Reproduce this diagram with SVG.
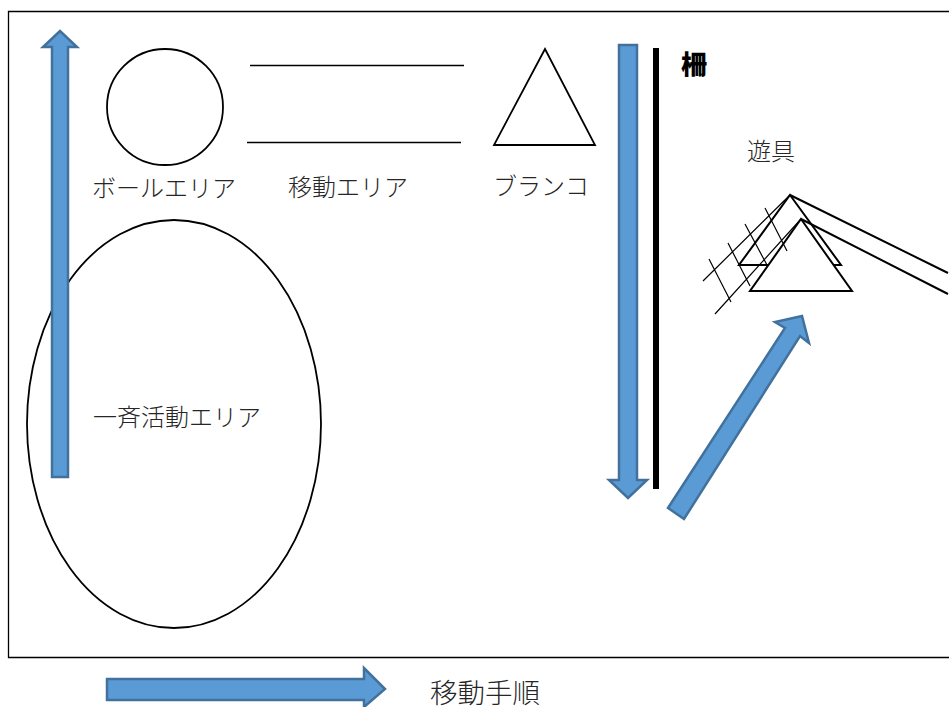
<svg xmlns="http://www.w3.org/2000/svg" width="949" height="707" viewBox="0 0 949 707">
  <style>
    .outline { fill: none; stroke: #000; stroke-width: 1.8; }
    .line { fill: none; stroke: #000; stroke-width: 1.3; }
    .solid { fill: #fff; stroke: #000; stroke-width: 2; }
    .roof { fill: none; stroke: #000; stroke-width: 2; }
    .thin { fill: none; stroke: #000; stroke-width: 1.2; }
    .flow { fill: #5b9bd5; stroke: #41719c; stroke-width: 2.5; }
    text { font-family: "Noto Sans CJK JP", sans-serif; font-weight: 300; font-size: 24px; fill: #262626; text-anchor: middle; }
  </style>
  <rect width="949" height="707" fill="#fff"/>
  <g id="frame"><path class="line" d="M949 11.5H8.5V657.5H949"/></g>

  <g id="activity-area">
    <ellipse class="outline" cx="174" cy="424" rx="147" ry="204"/>
    <text x="177" y="426">一斉活動エリア</text>
  </g>
  <g id="ball-area">
    <circle class="outline" cx="165" cy="107" r="58"/>
    <text x="164" y="197">ボールエリア</text>
  </g>
  <g id="move-area">
    <line class="line" x1="250" y1="65.5" x2="464" y2="65.5"/>
    <line class="line" x1="247" y1="142.5" x2="461" y2="142.5"/>
    <text x="348" y="196">移動エリア</text>
  </g>
  <g id="swing">
    <polygon class="outline" points="545,49 595,145 494,145"/>
    <text x="541" y="195">ブランコ</text>
  </g>
  <g id="fence">
    <rect x="653" y="48" width="6" height="441" fill="#000"/>
    <text x="694" y="74" style="font-weight:900;font-size:26px;fill:#000">柵</text>
  </g>
  <g id="playground">
    <text x="771" y="160">遊具</text>
    <polygon class="roof" points="790,195 841,265 739,265"/>
    <polygon class="solid" points="801,219 852,291 750,291"/>
    <path class="roof" d="M790 195 948 273M801 219 948 294"/>
    <path class="thin" d="M703 281 790 195M715 314 801 219M709 259 731 302M728 243 750 286M745 224 767 265M765 208 787 251"/>
  </g>

  <g id="connectors">
    <polygon class="flow" points="52,477 52,47 43,47 60,31 77,47 68,47 68,477"/>
    <polygon class="flow" points="619,45 637,45 637,480 647,480 628,498 609,480 619,480"/>
    <polygon class="flow" points="668,508 785,328 775,322 802,316 809,343 800,336 684,519"/>
    <polygon class="flow" points="107,679 364,679 364,668 385,689 364,707 364,700 107,700"/>
  </g>
  <g id="legend"><text x="485" y="703" style="font-size:27.5px">移動手順</text></g>
</svg>
